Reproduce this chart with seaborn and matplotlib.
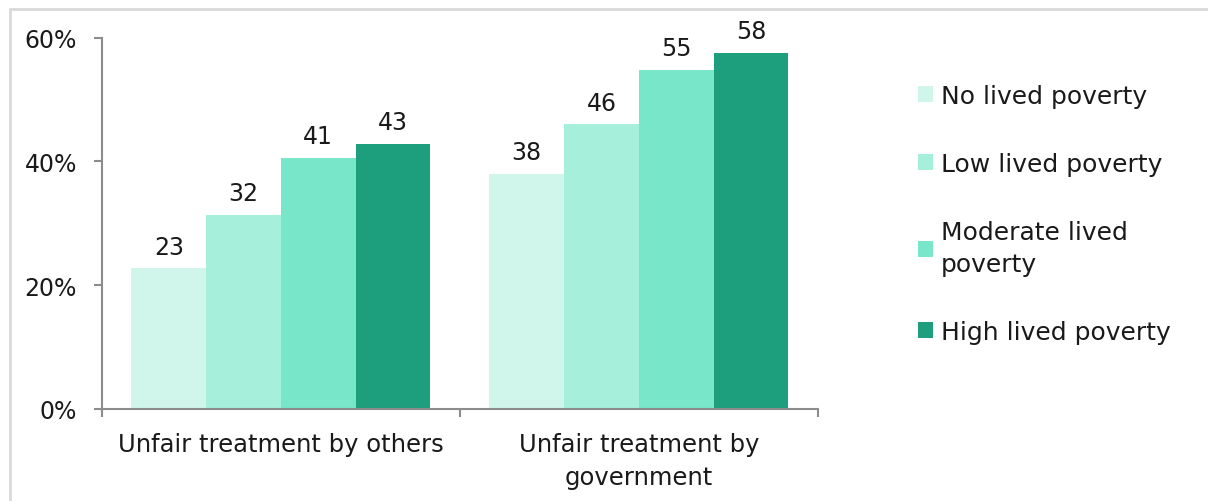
import pandas as pd
import matplotlib.pyplot as plt
import seaborn as sns
from matplotlib.lines import Line2D
from matplotlib.ticker import FixedLocator, PercentFormatter

categories = ["Unfair treatment by others", "Unfair treatment by\ngovernment"]
groups = ["No lived poverty", "Low lived poverty", "Moderate lived\npoverty", "High lived poverty"]
by_others = [22.7, 31.4, 40.6, 42.8]
by_government = [38.0, 46.0, 54.8, 57.5]
labels_others = ["23", "32", "41", "43"]
labels_government = ["38", "46", "55", "58"]
colors = ["#d0f5ea", "#a5efdb", "#77e6c9", "#1d9e7c"]

rows = []
for g, v, l in zip(groups, by_others, labels_others):
    rows.append({"category": categories[0], "group": g, "value": v, "label": l})
for g, v, l in zip(groups, by_government, labels_government):
    rows.append({"category": categories[1], "group": g, "value": v, "label": l})
df = pd.DataFrame(rows)

sns.set_style("white")
plt.rcParams["font.family"] = ["DejaVu Sans"]
text_color = "#1a1a1a"
axis_color = "#8c8c8c"

fig = plt.figure(figsize=(12.08, 5.02), dpi=100)
ax = fig.add_axes([0.0844, 0.1833, 0.5926, 0.7397])

sns.barplot(data=df, x="category", y="value", hue="group", order=categories,
            hue_order=groups, palette=colors, width=0.835, gap=0,
            saturation=1, linewidth=0, ax=ax)

for container, series in zip(ax.containers, groups):
    labs = df[df["group"] == series]["label"].tolist()
    ax.bar_label(container, labels=labs, padding=7, fontsize=17, color=text_color)

ax.set_ylim(0, 60)
ax.set_xlim(-0.5, 1.5)
ax.set_yticks([0, 20, 40, 60])
ax.yaxis.set_major_formatter(PercentFormatter(decimals=0))
ax.set_xlabel("")
ax.set_ylabel("")

for side in ["top", "right"]:
    ax.spines[side].set_visible(False)
for side in ["left", "bottom"]:
    ax.spines[side].set_color(axis_color)
    ax.spines[side].set_linewidth(1.5)

ax.tick_params(axis="y", which="major", left=True, length=6, width=1.5,
               color=axis_color, labelsize=17, labelcolor=text_color, pad=12)
ax.tick_params(axis="x", which="major", bottom=False, labelsize=17.5,
               labelcolor=text_color, pad=13)
for lab in ax.get_xticklabels():
    lab.set_linespacing(1.5)
ax.xaxis.set_minor_locator(FixedLocator([-0.5, 0.5, 1.5]))
ax.tick_params(axis="x", which="minor", bottom=True, length=6, width=1.5,
               color=axis_color)

handles, _ = ax.get_legend_handles_labels()
leg = ax.legend(handles, groups, loc="center left", bbox_to_anchor=(1.109, 0.525),
                frameon=False, fontsize=18, labelcolor=text_color,
                handlelength=0.6, handleheight=0.6, handletextpad=0.3,
                labelspacing=1.75)
for t in leg.get_texts():
    t.set_linespacing(1.45)

# light frame along the top and left edges of the image
fig.add_artist(Line2D([10 / 1208, 1.0], [1 - 10 / 502, 1 - 10 / 502],
                      transform=fig.transFigure, color="#d9d9d9", linewidth=2))
fig.add_artist(Line2D([10 / 1208, 10 / 1208], [0.0, 1 - 10 / 502],
                      transform=fig.transFigure, color="#d9d9d9", linewidth=2))

fig.savefig("out.png", dpi=100)
